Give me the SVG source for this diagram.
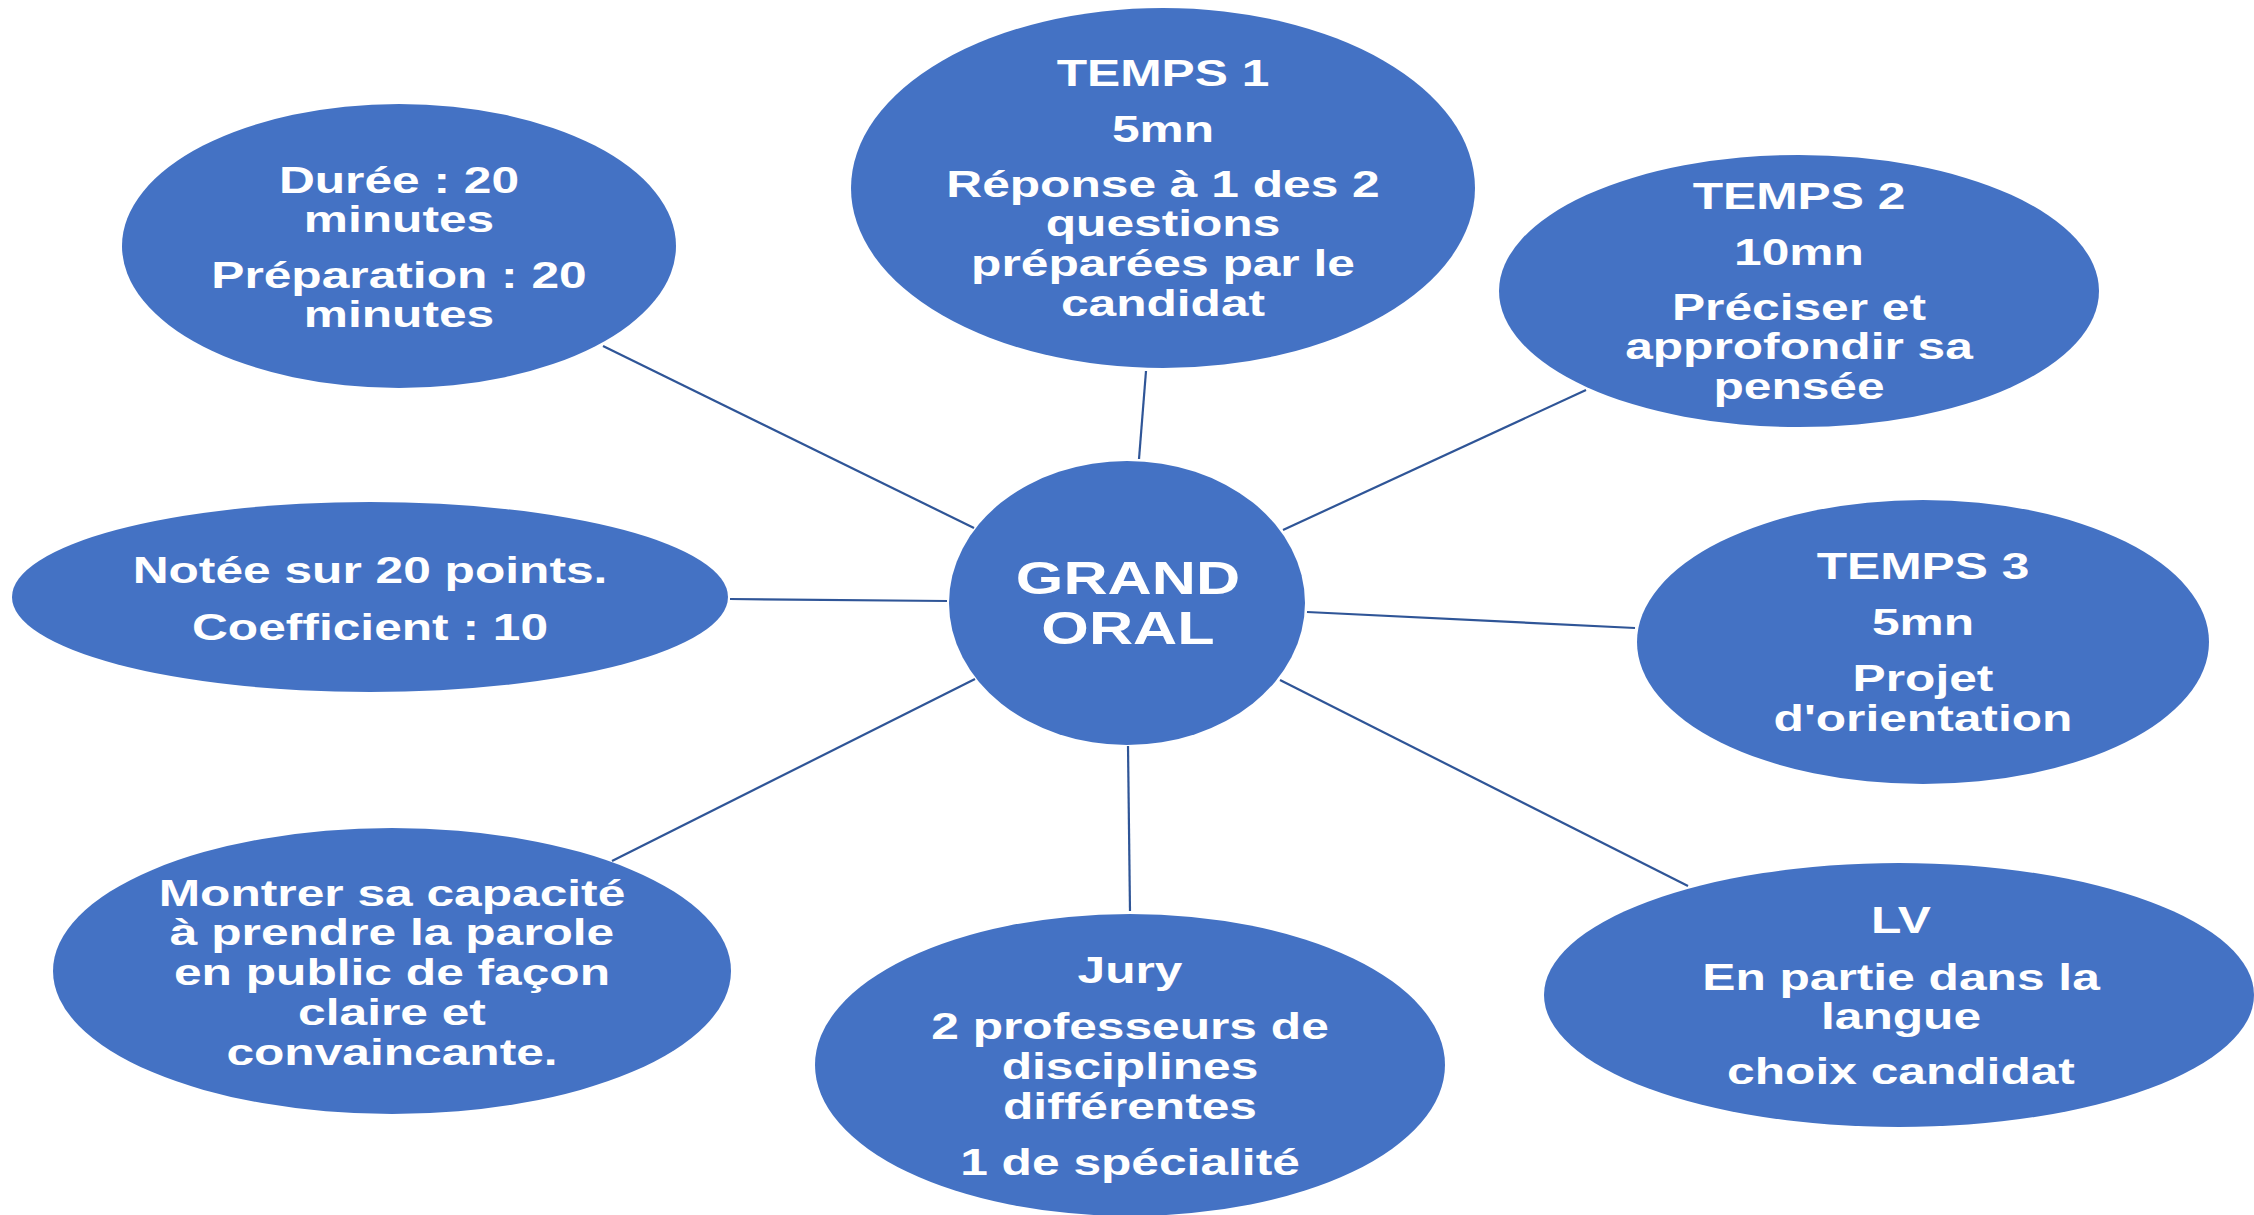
<svg xmlns="http://www.w3.org/2000/svg" width="2254" height="1215" viewBox="0 0 2254 1215">
<style>
.bg{fill:#FFFFFF}
.node ellipse{fill:#4472C4;stroke:none}
.node text{font-family:"Liberation Sans",Arial,sans-serif;font-weight:bold;font-size:36px;fill:#FFFFFF;text-anchor:middle}
.node text.big{font-size:46px}
.edges line{stroke:#2F5597;stroke-width:2.2;fill:none}
</style>
<rect class="bg" x="0" y="0" width="2254" height="1215"/>
<g id="connectors" class="edges">
<line x1="603" y1="346" x2="974" y2="528"/>
<line x1="730" y1="599" x2="947" y2="601"/>
<line x1="1146" y1="371" x2="1139" y2="459"/>
<line x1="1586" y1="390" x2="1283" y2="530"/>
<line x1="1307" y1="612" x2="1635" y2="628"/>
<line x1="1280" y1="680" x2="1688" y2="886"/>
<line x1="1128" y1="746" x2="1130" y2="911"/>
<line x1="975" y1="679" x2="612" y2="861"/>
</g>
<g id="node-duree" class="node">
<ellipse cx="399" cy="246" rx="277" ry="142"/>
<g transform="translate(399 2) scale(1.38 1)"><text><tspan x="0" y="191">Durée : 20</tspan><tspan x="0" y="230">minutes</tspan><tspan x="0" y="286">Préparation : 20</tspan><tspan x="0" y="325">minutes</tspan></text></g>
</g>
<g id="node-temps1" class="node">
<ellipse cx="1163" cy="188" rx="312" ry="180"/>
<g transform="translate(1163 2) scale(1.38 1)"><text><tspan x="0" y="84">TEMPS 1</tspan><tspan x="0" y="140">5mn</tspan><tspan x="0" y="195">Réponse à 1 des 2</tspan><tspan x="0" y="234">questions</tspan><tspan x="0" y="274">préparées par le</tspan><tspan x="0" y="314">candidat</tspan></text></g>
</g>
<g id="node-temps2" class="node">
<ellipse cx="1799" cy="291" rx="300" ry="136"/>
<g transform="translate(1799 2) scale(1.38 1)"><text><tspan x="0" y="207">TEMPS 2</tspan><tspan x="0" y="263">10mn</tspan><tspan x="0" y="318">Préciser et</tspan><tspan x="0" y="357">approfondir sa</tspan><tspan x="0" y="397">pensée</tspan></text></g>
</g>
<g id="node-temps3" class="node">
<ellipse cx="1923" cy="642" rx="286" ry="142"/>
<g transform="translate(1923 2) scale(1.38 1)"><text><tspan x="0" y="577">TEMPS 3</tspan><tspan x="0" y="633">5mn</tspan><tspan x="0" y="689">Projet</tspan><tspan x="0" y="729">d'orientation</tspan></text></g>
</g>
<g id="node-lv" class="node">
<ellipse cx="1899" cy="995" rx="355" ry="132"/>
<g transform="translate(1901 2) scale(1.38 1)"><text><tspan x="0" y="931">LV</tspan><tspan x="0" y="988">En partie dans la</tspan><tspan x="0" y="1027">langue</tspan><tspan x="0" y="1082">choix candidat</tspan></text></g>
</g>
<g id="node-jury" class="node">
<ellipse cx="1130" cy="1065" rx="315" ry="151"/>
<g transform="translate(1130 2) scale(1.38 1)"><text><tspan x="0" y="981">Jury</tspan><tspan x="0" y="1037">2 professeurs de</tspan><tspan x="0" y="1077">disciplines</tspan><tspan x="0" y="1117">différentes</tspan><tspan x="0" y="1173">1 de spécialité</tspan></text></g>
</g>
<g id="node-montrer" class="node">
<ellipse cx="392" cy="971" rx="339" ry="143"/>
<g transform="translate(392 2) scale(1.38 1)"><text><tspan x="0" y="904">Montrer sa capacité</tspan><tspan x="0" y="943">à prendre la parole</tspan><tspan x="0" y="983">en public de façon</tspan><tspan x="0" y="1023">claire et</tspan><tspan x="0" y="1063">convaincante.</tspan></text></g>
</g>
<g id="node-notee" class="node">
<ellipse cx="370" cy="597" rx="358" ry="95"/>
<g transform="translate(370 2) scale(1.38 1)"><text><tspan x="0" y="581">Notée sur 20 points.</tspan><tspan x="0" y="638">Coefficient : 10</tspan></text></g>
</g>
<g id="node-grand-oral" class="node">
<ellipse cx="1127" cy="603" rx="178" ry="142"/>
<g transform="translate(1128 2) scale(1.33 1)"><text class="big"><tspan x="0" y="592">GRAND</tspan><tspan x="0" y="642">ORAL</tspan></text></g>
</g>
</svg>
